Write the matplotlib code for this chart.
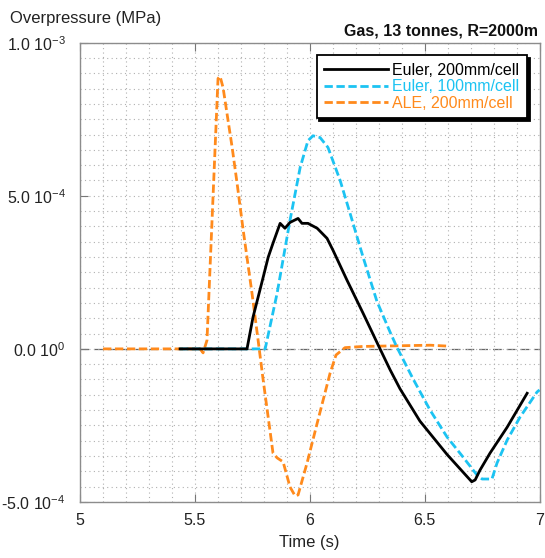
import matplotlib
matplotlib.use('Agg')
import matplotlib.pyplot as plt
from matplotlib.ticker import MultipleLocator, FixedLocator, FixedFormatter

plt.rcParams['font.family'] = ['Liberation Sans', 'DejaVu Sans']
plt.rcParams['mathtext.fontset'] = 'custom'
plt.rcParams['mathtext.rm'] = 'Liberation Sans'
plt.rcParams['mathtext.it'] = 'Liberation Sans:italic'
plt.rcParams['mathtext.bf'] = 'Liberation Sans:bold'

# ==========================================
# Data (time in s, overpressure in MPa x 1e-3)
# ==========================================
euler200_t = [5.437, 5.728, 5.754, 5.798, 5.820, 5.841, 5.872, 5.893, 5.915, 5.950,
              5.967, 5.993, 6.033, 6.076, 6.102, 6.163, 6.233, 6.300, 6.350, 6.393,
              6.480, 6.598, 6.698, 6.705, 6.720, 6.741, 6.785, 6.859, 6.946]
euler200_p = [0.0, 0.0, 0.103, 0.233, 0.299, 0.345, 0.410, 0.394, 0.413, 0.426,
              0.410, 0.410, 0.394, 0.361, 0.322, 0.224, 0.116, 0.010, -0.068, -0.130,
              -0.236, -0.345, -0.428, -0.434, -0.428, -0.396, -0.340, -0.256, -0.145]

euler100_t = [5.437, 5.807, 5.859, 5.915, 5.959, 5.993, 6.015, 6.046, 6.080, 6.133,
              6.176, 6.233, 6.293, 6.350, 6.380, 6.450, 6.524, 6.598, 6.667, 6.728,
              6.750, 6.793, 6.815, 6.859, 6.915, 6.989, 7.0]
euler100_p = [0.0, 0.0, 0.182, 0.420, 0.592, 0.680, 0.696, 0.690, 0.658, 0.550,
              0.443, 0.299, 0.155, 0.055, 0.005, -0.098, -0.200, -0.288, -0.353, -0.412,
              -0.425, -0.425, -0.373, -0.298, -0.223, -0.141, -0.134]

ale200_t = [5.102, 5.524, 5.537, 5.554, 5.602, 5.611, 5.624, 5.663, 5.685, 5.711,
            5.750, 5.776, 5.798, 5.841, 5.859, 5.885, 5.915, 5.937, 5.950, 5.989,
            6.033, 6.089, 6.115, 6.154, 6.233, 6.524, 6.602]
ale200_p = [0.0, 0.0, -0.013, 0.028, 0.883, 0.89, 0.853, 0.660, 0.540, 0.390,
            0.180, 0.030, -0.100, -0.340, -0.356, -0.369, -0.451, -0.480, -0.477, -0.373,
            -0.243, -0.080, -0.020, 0.004, 0.008, 0.012, 0.009]

ytick_vals = [-0.5, 0.0, 0.5, 1.0]
ytick_labels = [r'-5.0 10$^{-4}$', r'0.0 10$^{0}$', r'5.0 10$^{-4}$', r'1.0 10$^{-3}$']
xtick_vals = [5, 5.5, 6, 6.5, 7]
xtick_labels = ['5', '5.5', '6', '6.5', '7']

black = '#000000'
cyan = '#1cc3f2'
orange = '#ff8a1c'

fig = plt.figure(figsize=(5.45, 5.58), dpi=100)
ax = fig.add_axes([0.146, 0.1004, 0.844, 0.8231])

ax.axhline(0, color='#666666', lw=0.9, ls=(0, (7, 4)), zorder=1)

ax.plot(ale200_t, ale200_p, color=orange, lw=2.0, ls=(0, (3, 1.3)), label='ALE, 200mm/cell', zorder=3)
ax.plot(euler100_t, euler100_p, color=cyan, lw=2.0, ls=(0, (3, 1.3)), label='Euler, 100mm/cell', zorder=3)
ax.plot(euler200_t, euler200_p, color=black, lw=2.0, label='Euler, 200mm/cell', zorder=4)

ax.set_xlim(5, 7)
ax.set_ylim(-0.5, 1.0)
ax.set_xticks(xtick_vals)
ax.set_xticklabels(xtick_labels)
ax.xaxis.set_minor_locator(MultipleLocator(0.1))
ax.yaxis.set_major_locator(FixedLocator(ytick_vals))
ax.yaxis.set_major_formatter(FixedFormatter(ytick_labels))
ax.yaxis.set_minor_locator(MultipleLocator(0.05))

ax.grid(which='both', ls=(0, (1, 3)), color='#b0b0b0', lw=0.8)
ax.tick_params(which='major', direction='in', length=6, color='#777777', top=True,
               labelsize=11.5, labelcolor='#222222')
ax.tick_params(axis='x', which='major', pad=8)
ax.tick_params(axis='y', which='major', pad=10)
ax.tick_params(which='minor', length=0)
for s in ax.spines.values():
    s.set_color('#8c8c8c')
    s.set_linewidth(1.0)

ax.set_xlabel('Time (s)', fontsize=12, color='#222222', labelpad=5)
fig.text(0.018, 0.967, 'Overpressure (MPa)', fontsize=12, color='#222222', ha='left', va='center')
fig.text(0.987, 0.945, 'Gas, 13 tonnes, R=2000m', fontsize=11.5, fontweight='bold',
         color='#111111', ha='right', va='center')

# legend order: Euler 200, Euler 100, ALE
h, l = ax.get_legend_handles_labels()
order = [2, 1, 0]
leg = ax.legend([h[i] for i in order], [l[i] for i in order], loc='upper right',
                fontsize=11.5, fancybox=False, framealpha=1, edgecolor='black',
                shadow={'color': 'black', 'alpha': 1}, handlelength=4.0,
                handletextpad=0.3, labelspacing=0.1, borderpad=0.45,
                borderaxespad=0.8)
leg.get_frame().set_linewidth(1.3)
for txt, c in zip(leg.get_texts(), [black, cyan, orange]):
    txt.set_color(c)

fig.savefig('out.png', dpi=100)
